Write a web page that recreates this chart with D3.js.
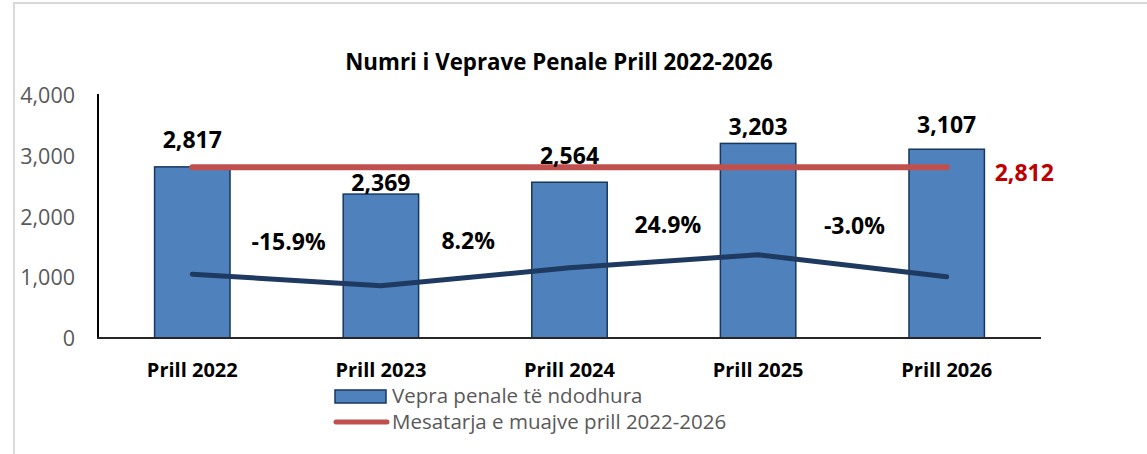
<!DOCTYPE html>
<meta charset="utf-8">
<title>Numri i Veprave Penale</title>
<style>
  body { margin: 0; background: #fff; }
  svg text { font-family: "Open Sans", Lato, sans-serif; }
</style>
<body>
<script src="https://d3js.org/d3.v7.min.js"></script>
<script>
// data
var categories = ["Prill 2022", "Prill 2023", "Prill 2024", "Prill 2025", "Prill 2026"];
var cases = [2817, 2369, 2564, 3203, 3107];
var average = 2812;
var changeLabels = ["-15.9%", "8.2%", "24.9%", "-3.0%"];
// unlabelled dark line, read on the main axis
var trendValues = [1050, 860, 1155, 1370, 1010];
var yTicks = [0, 1000, 2000, 3000, 4000];

var W = 1147, H = 454;
var margin = {top: 95, left: 98, right: 106, bottom: 116};

var svg = d3.select("body").append("svg")
    .attr("width", W)
    .attr("height", H);

// outer chart frame
svg.append("rect")
    .attr("x", 14).attr("y", 3)
    .attr("width", 1300).attr("height", 600)
    .attr("fill", "none")
    .attr("stroke", "#d9d9d9")
    .attr("stroke-width", 2);

var x = d3.scaleBand()
    .domain(categories)
    .range([margin.left, W - margin.right])
    .paddingInner(0.6)
    .paddingOuter(0.3);

var y = d3.scaleLinear()
    .domain([0, 4000])
    .range([H - margin.bottom, margin.top]);

var cx = function(i) { return x(categories[i]) + x.bandwidth() / 2; };

// title
svg.append("text")
    .attr("x", 559).attr("y", 70)
    .attr("text-anchor", "middle")
    .style("font-size", "22.3px")
    .style("font-weight", "bold")
    .text("Numri i Veprave Penale Prill 2022-2026");

// y axis labels
svg.selectAll(".ytick")
    .data(yTicks)
    .enter().append("text")
    .attr("x", 75)
    .attr("y", function(d) { return y(d) + 8; })
    .attr("text-anchor", "end")
    .attr("fill", "#595959")
    .style("font-size", "21.5px")
    .text(d3.format(","));

// bars
svg.selectAll(".bar")
    .data(cases)
    .enter().append("rect")
    .attr("x", function(d, i) { return x(categories[i]); })
    .attr("y", function(d) { return y(d); })
    .attr("width", x.bandwidth())
    .attr("height", function(d) { return y(0) - y(d); })
    .attr("fill", "#4F81BD")
    .attr("stroke", "#17375E")
    .attr("stroke-width", 1.5);

// axes lines
svg.append("line")
    .attr("x1", margin.left).attr("x2", margin.left)
    .attr("y1", y(4000) - 1).attr("y2", y(0))
    .attr("stroke", "#000").attr("stroke-width", 2);
svg.append("line")
    .attr("x1", margin.left - 1).attr("x2", W - margin.right)
    .attr("y1", y(0)).attr("y2", y(0))
    .attr("stroke", "#262626").attr("stroke-width", 2);

// average line
svg.append("line")
    .attr("x1", cx(0)).attr("x2", cx(4))
    .attr("y1", y(average)).attr("y2", y(average))
    .attr("stroke", "#C0504D")
    .attr("stroke-width", 6)
    .attr("stroke-linecap", "round");

svg.append("text")
    .attr("x", cx(4) + 48).attr("y", y(average) + 14)
    .attr("fill", "#C00000")
    .style("font-size", "23px")
    .style("font-weight", "bold")
    .text(d3.format(",")(average));

// trend line
var line = d3.line()
    .x(function(d, i) { return cx(i); })
    .y(function(d) { return y(d); });

svg.append("path")
    .datum(trendValues)
    .attr("d", line)
    .attr("fill", "none")
    .attr("stroke", "#1F3A60")
    .attr("stroke-width", 5)
    .attr("stroke-linecap", "round")
    .attr("stroke-linejoin", "round");

// value labels above bars (offsets as placed in the original)
var labelOffset = [-19, -3, -18, -8, -16];
svg.selectAll(".vlabel")
    .data(cases)
    .enter().append("text")
    .attr("x", function(d, i) { return cx(i); })
    .attr("y", function(d, i) { return y(d) + labelOffset[i]; })
    .attr("text-anchor", "middle")
    .style("font-size", "23px")
    .style("font-weight", "bold")
    .text(d3.format(","));

// percent change labels between bars
var changeY = [250, 249, 233, 234];
var changeDx = [2, -7, 4, 2];
svg.selectAll(".clabel")
    .data(changeLabels)
    .enter().append("text")
    .attr("x", function(d, i) { return (cx(i) + cx(i + 1)) / 2 + changeDx[i]; })
    .attr("y", function(d, i) { return changeY[i]; })
    .attr("text-anchor", "middle")
    .style("font-size", "23px")
    .style("font-weight", "bold")
    .text(function(d) { return d; });

// category labels
svg.selectAll(".xlabel")
    .data(categories)
    .enter().append("text")
    .attr("x", function(d, i) { return cx(i); })
    .attr("y", 377)
    .attr("text-anchor", "middle")
    .style("font-size", "20px")
    .style("font-weight", "bold")
    .text(function(d) { return d; });

// legend
var legend = svg.append("g").attr("transform", "translate(335,390)");
legend.append("rect")
    .attr("x", 0).attr("y", 0)
    .attr("width", 51).attr("height", 13)
    .attr("fill", "#4F81BD")
    .attr("stroke", "#17375E")
    .attr("stroke-width", 1.5);
legend.append("text")
    .attr("x", 57).attr("y", 13)
    .attr("fill", "#595959")
    .style("font-size", "20.5px")
    .text("Vepra penale të ndodhura");
legend.append("line")
    .attr("x1", 1).attr("x2", 52)
    .attr("y1", 32).attr("y2", 32)
    .attr("stroke", "#C0504D")
    .attr("stroke-width", 5)
    .attr("stroke-linecap", "round");
legend.append("text")
    .attr("x", 57).attr("y", 39)
    .attr("fill", "#595959")
    .style("font-size", "20.5px")
    .text("Mesatarja e muajve prill 2022-2026");
</script>
</body>
